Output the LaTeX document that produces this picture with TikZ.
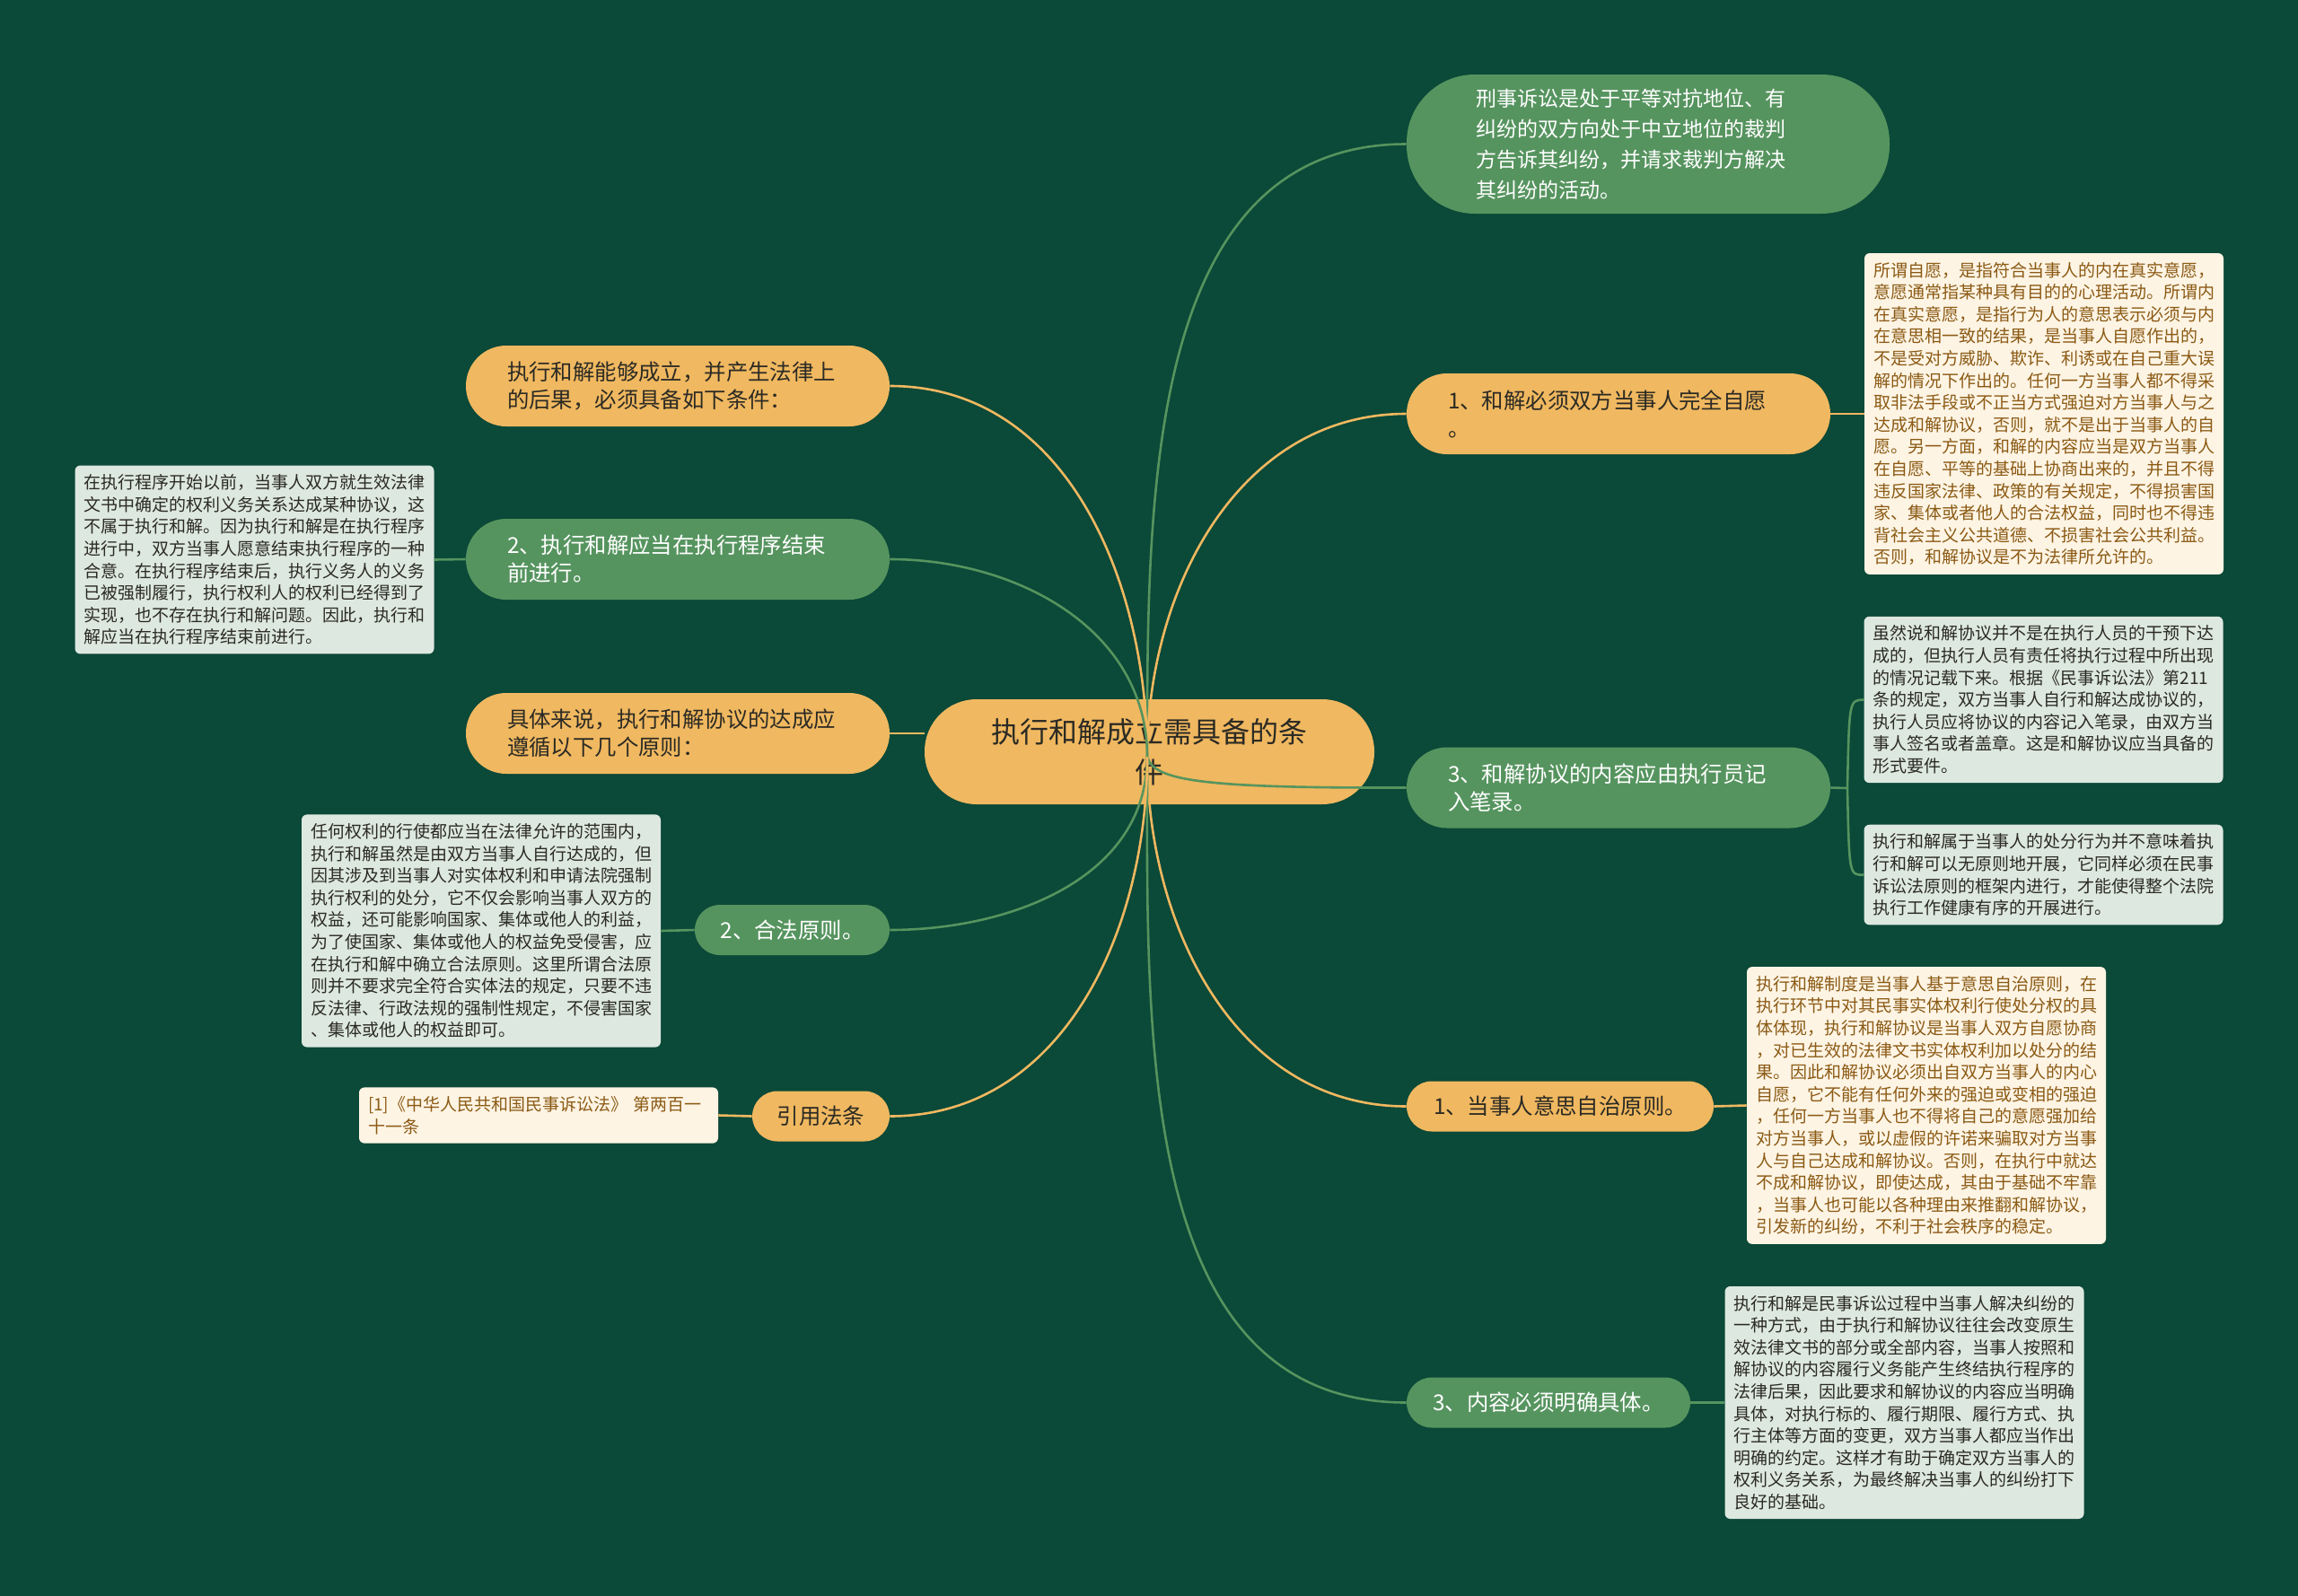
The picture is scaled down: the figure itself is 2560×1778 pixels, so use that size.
\documentclass[tikz,border=0pt]{standalone}
\usepackage{fontspec}
\newfontfamily\cjk{Noto Sans CJK SC}
\usepackage{tikz}
\definecolor{bgGreen}{HTML}{0B4938}
\definecolor{nodeOrange}{HTML}{F0B860}
\definecolor{nodeGreen}{HTML}{56945F}
\definecolor{leafGreen}{HTML}{DDE8E0}
\definecolor{leafBeige}{HTML}{FDF4E4}
\definecolor{leafBrown}{HTML}{8B5A14}
\definecolor{darkText}{HTML}{2B2A24}

\begin{document}
\begin{tikzpicture}[
	x=0.5pt, y=0.5pt,
	every node/.style={font=\cjk},
	hubbox/.style={fill=nodeOrange, text=darkText, rounded corners=29pt, minimum width=250.5pt, minimum height=58.5pt, align=center, font=\cjk\fontsize{16}{22.5}\selectfont},
	branch/.style={rounded corners=22.5pt, minimum height=45pt, text width=190pt, inner xsep=23pt, align=left, font=\cjk\fontsize{12.2}{15.5}\selectfont},
	pill/.style={rounded corners=14pt, minimum height=28pt, align=center, font=\cjk\fontsize{12.2}{15.5}\selectfont},
	orange/.style={fill=nodeOrange, text=darkText},
	green/.style={fill=nodeGreen, text=white},
	leaf/.style={rounded corners=3pt, text width=190pt, inner xsep=5pt, inner ysep=5pt, align=left, font=\cjk\fontsize{9.5}{12.3}\selectfont},
	gleaf/.style={leaf, fill=leafGreen, text=darkText},
	bleaf/.style={leaf, fill=leafBeige, text=leafBrown},
	oline/.style={draw=nodeOrange, line width=1.3pt},
	gline/.style={draw=nodeGreen, line width=1.3pt}]
	\useasboundingbox (0,0) rectangle (2560,-1778);
	\fill[bgGreen] (0,0) rectangle (2560,-1778);

	\node[hubbox] (center) at (1280.5,-837.5) {执行和解成立需具备的条\\件};
	\coordinate (hub) at (1278,-843);

	\node[branch, orange] (n1) at (755,-430) {执行和解能够成立，并产生法律上\\的后果，必须具备如下条件：};
	\node[branch, green] (n2) at (755,-623) {2、执行和解应当在执行程序结束\\前进行。};
	\node[branch, orange] (n3) at (755,-817) {具体来说，执行和解协议的达成应\\遵循以下几个原则：};
	\node[pill, green, minimum width=108.5pt] (n4) at (882.5,-1036) {2、合法原则。};
	\node[pill, orange, minimum width=76.5pt] (n5) at (914.5,-1243.5) {引用法条};

	\node[gleaf] (L2) at (283.5,-623.5) {在执行程序开始以前，当事人双方就生效法律\\文书中确定的权利义务关系达成某种协议，这\\不属于执行和解。因为执行和解是在执行程序\\进行中，双方当事人愿意结束执行程序的一种\\合意。在执行程序结束后，执行义务人的义务\\已被强制履行，执行权利人的权利已经得到了\\实现，也不存在执行和解问题。因此，执行和\\解应当在执行程序结束前进行。};
	\node[gleaf] (L4) at (536,-1037) {任何权利的行使都应当在法律允许的范围内，\\执行和解虽然是由双方当事人自行达成的，但\\因其涉及到当事人对实体权利和申请法院强制\\执行权利的处分，它不仅会影响当事人双方的\\权益，还可能影响国家、集体或他人的利益，\\为了使国家、集体或他人的权益免受侵害，应\\在执行和解中确立合法原则。这里所谓合法原\\则并不要求完全符合实体法的规定，只要不违\\反法律、行政法规的强制性规定，不侵害国家\\、集体或他人的权益即可。};
	\node[bleaf] (L5) at (600,-1242.5) {[1]《中华人民共和国民事诉讼法》 第两百一\\十一条};

	\node[branch, green, rounded corners=38pt, minimum height=77.5pt, text width=192pt, inner xsep=38.5pt, font=\cjk\fontsize{11.5}{17}\selectfont] (r1) at (1836,-160.5) {刑事诉讼是处于平等对抗地位、有\\纠纷的双方向处于中立地位的裁判\\方告诉其纠纷，并请求裁判方解决\\其纠纷的活动。};
	\node[branch, orange] (r2) at (1803,-461) {1、和解必须双方当事人完全自愿\\。};
	\node[branch, green] (r3) at (1803,-877.5) {3、和解协议的内容应由执行员记\\入笔录。};
	\node[pill, orange, minimum width=171pt] (r4) at (1738,-1232.5) {1、当事人意思自治原则。};
	\node[pill, green, minimum width=158pt] (r5) at (1725,-1562.5) {3、内容必须明确具体。};

	\node[bleaf] (R2) at (2277,-461) {所谓自愿，是指符合当事人的内在真实意愿，\\意愿通常指某种具有目的的心理活动。所谓内\\在真实意愿，是指行为人的意思表示必须与内\\在意思相一致的结果，是当事人自愿作出的，\\不是受对方威胁、欺诈、利诱或在自己重大误\\解的情况下作出的。任何一方当事人都不得采\\取非法手段或不正当方式强迫对方当事人与之\\达成和解协议，否则，就不是出于当事人的自\\愿。另一方面，和解的内容应当是双方当事人\\在自愿、平等的基础上协商出来的，并且不得\\违反国家法律、政策的有关规定，不得损害国\\家、集体或者他人的合法权益，同时也不得违\\背社会主义公共道德、不损害社会公共利益。\\否则，和解协议是不为法律所允许的。};
	\node[gleaf] (R3a) at (2276.5,-779.5) {虽然说和解协议并不是在执行人员的干预下达\\成的，但执行人员有责任将执行过程中所出现\\的情况记载下来。根据《民事诉讼法》第211\\条的规定，双方当事人自行和解达成协议的，\\执行人员应将协议的内容记入笔录，由双方当\\事人签名或者盖章。这是和解协议应当具备的\\形式要件。};
	\node[gleaf] (R3b) at (2276.5,-974.5) {执行和解属于当事人的处分行为并不意味着执\\行和解可以无原则地开展，它同样必须在民事\\诉讼法原则的框架内进行，才能使得整个法院\\执行工作健康有序的开展进行。};
	\node[bleaf] (R4) at (2146,-1231.5) {执行和解制度是当事人基于意思自治原则，在\\执行环节中对其民事实体权利行使处分权的具\\体体现，执行和解协议是当事人双方自愿协商\\，对已生效的法律文书实体权利加以处分的结\\果。因此和解协议必须出自双方当事人的内心\\自愿，它不能有任何外来的强迫或变相的强迫\\，任何一方当事人也不得将自己的意愿强加给\\对方当事人，或以虚假的许诺来骗取对方当事\\人与自己达成和解协议。否则，在执行中就达\\不成和解协议，即使达成，其由于基础不牢靠\\，当事人也可能以各种理由来推翻和解协议，\\引发新的纠纷，不利于社会秩序的稳定。};
	\node[gleaf] (R5) at (2121.5,-1562.5) {执行和解是民事诉讼过程中当事人解决纠纷的\\一种方式，由于执行和解协议往往会改变原生\\效法律文书的部分或全部内容，当事人按照和\\解协议的内容履行义务能产生终结执行程序的\\法律后果，因此要求和解协议的内容应当明确\\具体，对执行标的、履行期限、履行方式、执\\行主体等方面的变更，双方当事人都应当作出\\明确的约定。这样才有助于确定双方当事人的\\权利义务关系，为最终解决当事人的纠纷打下\\良好的基础。};

	\draw[gline] (hub) to[out=90,in=180] (r1.west);
	\draw[oline] (hub) to[out=90,in=180] (r2.west);
	\draw[gline] (hub) .. controls (1285,-870) and (1340,-878) .. (r3.west);
	\draw[oline] (hub) to[out=-90,in=180] (r4.west);
	\draw[gline] (hub) to[out=-90,in=180] (r5.west);
	\draw[oline] (hub) to[out=90,in=0] (n1.east);
	\draw[gline] (hub) to[out=90,in=0] (n2.east);
	\draw[oline] (n3.east) -- (n3.east -| center.west);
	\draw[gline] (hub) to[out=-90,in=0] (n4.east);
	\draw[oline] (hub) to[out=-90,in=0] (n5.east);

	\draw[gline] (n2.west) -- (L2.east);
	\draw[gline] (n4.west) -- (L4.east);
	\draw[oline] (n5.west) -- (L5.east);
	\draw[oline] (r2.east) -- (R2.west);
	\coordinate (fork) at (2058,-878);
	\draw[gline] (r3.east) -- (fork);
	\draw[gline] (fork) .. controls (2060,-780) .. (R3a.west);
	\draw[gline] (fork) .. controls (2060,-975) .. (R3b.west);
	\draw[oline] (r4.east) -- (R4.west);
	\draw[gline] (r5.east) -- (R5.west);
\end{tikzpicture}
\end{document}
